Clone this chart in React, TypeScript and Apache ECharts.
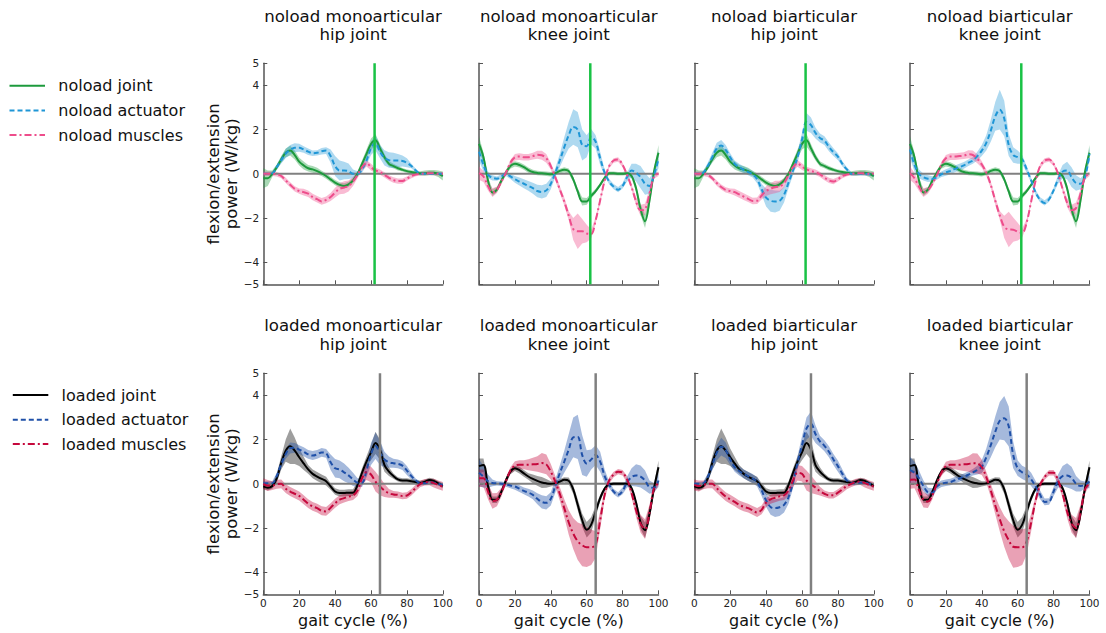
import React, { useEffect, useRef } from "react";
import * as echarts from "echarts";

// gait cycle sample positions (%)
const X = [0, 2.5, 5, 7.5, 10, 12.5, 15, 17.5, 20, 22.5, 25, 27.5, 30, 32.5, 35, 37.5, 40, 42.5, 45, 47.5, 50, 52.5, 55, 57.5, 60, 62.5, 65, 67.5, 70, 72.5, 75, 77.5, 80, 82.5, 85, 87.5, 90, 92.5, 95, 97.5, 100];
const Y_TICKS = [-5, -4, -2, 0, 2, 4, 5];
const TOE_OFF_NOLOAD = 62;
const TOE_OFF_LOADED = 65;

// ---------- noload ----------
const noloadHipJoint = [-0.2, -0.2, 0, 0.3, 0.65, 0.95, 1.05, 0.85, 0.55, 0.38, 0.25, 0.2, 0.12, 0.02, -0.1, -0.25, -0.4, -0.5, -0.55, -0.48, -0.3, 0, 0.45, 0.9, 1.35, 1.52, 1.15, 0.75, 0.45, 0.35, 0.25, 0.18, 0.12, 0.08, 0.05, 0.02, 0.03, 0.05, 0.05, 0, -0.1];
const noloadHipJointSd = [0.45, 0.35, 0.15, 0.12, 0.15, 0.2, 0.22, 0.2, 0.18, 0.18, 0.15, 0.15, 0.15, 0.12, 0.12, 0.12, 0.12, 0.12, 0.12, 0.12, 0.12, 0.12, 0.15, 0.2, 0.25, 0.28, 0.2, 0.15, 0.12, 0.1, 0.1, 0.08, 0.08, 0.08, 0.08, 0.1, 0.12, 0.12, 0.12, 0.15, 0.2];
const noloadKneeJoint = [1.35, 0.75, -0.3, -0.85, -0.72, -0.3, 0.05, 0.35, 0.45, 0.4, 0.3, 0.17, 0.08, 0.04, 0.02, 0, -0.02, 0.03, 0.13, 0.18, 0.12, -0.25, -0.8, -1.25, -1.25, -1.0, -0.78, -0.5, -0.18, 0.02, 0.02, 0, 0, 0.03, -0.1, -0.65, -1.6, -2.15, -1.2, 0.1, 0.95];
const noloadKneeJointSd = [0.35, 0.2, 0.15, 0.15, 0.12, 0.12, 0.12, 0.12, 0.12, 0.12, 0.12, 0.12, 0.1, 0.1, 0.1, 0.1, 0.1, 0.1, 0.1, 0.12, 0.12, 0.12, 0.15, 0.18, 0.15, 0.12, 0.1, 0.08, 0.08, 0.08, 0.08, 0.08, 0.08, 0.08, 0.1, 0.15, 0.25, 0.3, 0.25, 0.15, 0.35];

const noloadMonoHipAct = [0, 0, 0.02, 0.3, 0.62, 0.92, 1.08, 1.18, 1.18, 1.1, 1.0, 0.93, 0.95, 1.02, 1.05, 0.8, 0.35, 0.15, 0.15, 0.12, 0, 0, 0.2, 0.6, 1.15, 1.4, 1.0, 0.72, 0.62, 0.6, 0.6, 0.58, 0.5, 0.35, 0.15, 0, 0, 0, 0, 0, 0];
const noloadMonoHipActSd = [0.05, 0.05, 0.08, 0.12, 0.15, 0.2, 0.22, 0.2, 0.18, 0.15, 0.15, 0.12, 0.12, 0.15, 0.15, 0.3, 0.45, 0.45, 0.4, 0.35, 0.2, 0.12, 0.15, 0.2, 0.3, 0.35, 0.3, 0.35, 0.35, 0.35, 0.3, 0.25, 0.2, 0.1, 0.08, 0.05, 0.05, 0.05, 0.05, 0.05, 0.05];
const noloadMonoHipMus = [0, 0, 0, -0.02, -0.1, -0.3, -0.5, -0.68, -0.78, -0.83, -0.9, -1.05, -1.15, -1.25, -1.18, -1.05, -0.85, -0.68, -0.62, -0.55, -0.35, -0.05, 0.3, 0.48, 0.3, 0.15, 0.08, -0.05, -0.18, -0.28, -0.33, -0.33, -0.22, -0.1, -0.03, 0, 0.02, 0.03, 0.02, 0, 0];
const noloadHipMusSd = [0.1, 0.1, 0.1, 0.1, 0.1, 0.12, 0.12, 0.12, 0.12, 0.15, 0.15, 0.15, 0.15, 0.15, 0.15, 0.18, 0.22, 0.25, 0.28, 0.25, 0.2, 0.15, 0.15, 0.15, 0.15, 0.12, 0.12, 0.12, 0.12, 0.12, 0.12, 0.12, 0.1, 0.1, 0.08, 0.08, 0.08, 0.08, 0.08, 0.08, 0.08];

const noloadMonoKneeAct = [1.0, 0.4, -0.05, -0.18, -0.22, -0.12, 0, -0.12, -0.25, -0.35, -0.45, -0.55, -0.65, -0.78, -0.82, -0.75, -0.45, 0.05, 0.6, 1.2, 1.75, 2.12, 2.0, 1.3, 1.25, 1.68, 1.45, 0.7, 0.05, -0.35, -0.58, -0.72, -0.55, -0.15, 0.15, 0.05, -0.15, -0.45, -0.55, -0.05, 0.65];
const noloadMonoKneeActSd = [0.4, 0.3, 0.15, 0.12, 0.1, 0.1, 0.1, 0.12, 0.15, 0.18, 0.2, 0.22, 0.25, 0.28, 0.3, 0.3, 0.25, 0.2, 0.3, 0.45, 0.6, 0.8, 0.8, 0.7, 0.5, 0.35, 0.3, 0.3, 0.15, 0.12, 0.12, 0.12, 0.12, 0.2, 0.3, 0.4, 0.5, 0.5, 0.35, 0.2, 0.4];
const noloadMonoKneeMus = [0.03, -0.12, -0.55, -0.85, -0.72, -0.35, 0.05, 0.5, 0.75, 0.78, 0.75, 0.75, 0.8, 0.86, 0.84, 0.7, 0.35, -0.15, -0.7, -1.25, -1.9, -2.5, -2.6, -2.6, -2.7, -2.72, -2.1, -1.2, -0.3, 0.35, 0.6, 0.65, 0.4, -0.05, -0.6, -1.25, -1.65, -1.6, -0.9, -0.1, 0];
const noloadKneeMusSd = [0.3, 0.25, 0.2, 0.2, 0.15, 0.12, 0.1, 0.12, 0.15, 0.15, 0.15, 0.15, 0.15, 0.18, 0.2, 0.2, 0.15, 0.15, 0.15, 0.18, 0.2, 0.5, 0.8, 0.55, 0.4, 0.2, 0.15, 0.12, 0.12, 0.1, 0.1, 0.1, 0.1, 0.1, 0.12, 0.2, 0.25, 0.25, 0.2, 0.12, 0.1];

const noloadBiHipAct = [0, 0, 0.05, 0.35, 0.75, 1.15, 1.28, 1.08, 0.75, 0.45, 0.3, 0.18, 0.08, -0.02, -0.25, -0.7, -1.08, -1.22, -1.25, -1.22, -0.95, -0.4, 0.15, 0.75, 1.55, 2.35, 2.2, 1.85, 1.62, 1.5, 1.22, 0.98, 0.78, 0.45, 0.2, 0, 0, 0, 0, -0.02, -0.05];
const noloadBiHipActSd = [0.05, 0.05, 0.08, 0.15, 0.2, 0.25, 0.25, 0.22, 0.18, 0.15, 0.15, 0.15, 0.15, 0.15, 0.18, 0.25, 0.4, 0.5, 0.5, 0.45, 0.35, 0.25, 0.2, 0.25, 0.3, 0.4, 0.35, 0.25, 0.2, 0.2, 0.2, 0.18, 0.15, 0.12, 0.1, 0.08, 0.08, 0.08, 0.08, 0.08, 0.08];
const noloadBiHipMus = [0, 0, 0, -0.05, -0.2, -0.42, -0.6, -0.73, -0.78, -0.83, -0.93, -1.03, -1.13, -1.23, -1.22, -0.98, -0.78, -0.68, -0.6, -0.57, -0.42, -0.05, 0.3, 0.47, 0.32, 0.2, 0.13, 0.07, -0.03, -0.17, -0.3, -0.35, -0.25, -0.1, -0.03, 0, 0.02, 0.03, 0.02, 0, 0];

const noloadBiKneeAct = [1.1, 0.4, 0, -0.15, -0.22, -0.23, -0.15, -0.02, 0.06, 0.13, 0.22, 0.3, 0.38, 0.5, 0.6, 0.8, 1.05, 1.4, 1.95, 2.6, 2.9, 2.5, 1.3, 0.85, 0.75, 0.65, 0.2, -0.3, -0.85, -1.18, -1.32, -1.15, -0.75, -0.25, 0.1, 0.15, -0.15, -0.42, -0.45, -0.15, 0.9];
const noloadBiKneeActSd = [0.4, 0.3, 0.2, 0.15, 0.15, 0.12, 0.12, 0.12, 0.15, 0.15, 0.15, 0.15, 0.15, 0.15, 0.15, 0.2, 0.25, 0.35, 0.5, 0.65, 0.9, 0.8, 0.5, 0.35, 0.3, 0.2, 0.15, 0.12, 0.12, 0.12, 0.12, 0.12, 0.12, 0.2, 0.3, 0.4, 0.45, 0.35, 0.25, 0.15, 0.3];
const noloadBiKneeMus = [0.03, -0.2, -0.58, -0.85, -0.75, -0.45, -0.05, 0.42, 0.7, 0.78, 0.78, 0.8, 0.82, 0.88, 0.85, 0.68, 0.42, 0.05, -0.5, -1.22, -1.88, -2.4, -2.52, -2.53, -2.62, -2.68, -2.2, -1.25, -0.3, 0.35, 0.6, 0.65, 0.45, 0, -0.68, -1.3, -1.65, -1.55, -0.9, -0.15, 0];

// ---------- loaded ----------
const loadedHipJoint = [-0.12, -0.18, -0.1, 0.25, 0.95, 1.5, 1.7, 1.5, 1.2, 0.92, 0.65, 0.45, 0.33, 0.22, 0.12, -0.12, -0.35, -0.42, -0.42, -0.4, -0.4, -0.05, 0.5, 1.0, 1.42, 1.85, 1.55, 0.85, 0.55, 0.35, 0.2, 0.15, 0.15, 0.12, 0.08, 0.04, 0.1, 0.17, 0.13, 0.02, -0.1];
const loadedHipJointSd = [0.12, 0.12, 0.12, 0.2, 0.3, 0.5, 0.8, 0.6, 0.4, 0.3, 0.2, 0.2, 0.2, 0.2, 0.2, 0.15, 0.15, 0.15, 0.15, 0.15, 0.15, 0.15, 0.2, 0.25, 0.35, 0.5, 0.45, 0.3, 0.2, 0.12, 0.1, 0.1, 0.1, 0.1, 0.1, 0.1, 0.1, 0.1, 0.1, 0.1, 0.1];
const loadedKneeJoint = [0.8, 0.85, -0.1, -0.72, -0.72, -0.35, 0.15, 0.55, 0.7, 0.62, 0.47, 0.33, 0.22, 0.13, 0.06, 0.02, 0, 0.02, 0.1, 0.18, 0.13, -0.25, -0.95, -1.65, -2.08, -1.85, -1.25, -0.65, -0.22, -0.02, 0, 0, 0, 0, -0.2, -0.85, -1.75, -2.1, -1.35, -0.2, 0.75];
const loadedKneeJointSd = [0.35, 0.3, 0.2, 0.15, 0.15, 0.12, 0.12, 0.12, 0.12, 0.15, 0.15, 0.15, 0.2, 0.22, 0.25, 0.2, 0.12, 0.1, 0.12, 0.12, 0.15, 0.2, 0.25, 0.3, 0.35, 0.35, 0.25, 0.15, 0.1, 0.08, 0.08, 0.08, 0.08, 0.08, 0.1, 0.15, 0.3, 0.35, 0.3, 0.2, 0.3];

const loadedMonoHipAct = [0.03, 0.03, 0.03, 0.35, 0.9, 1.35, 1.62, 1.63, 1.55, 1.45, 1.33, 1.28, 1.33, 1.42, 1.38, 0.98, 0.7, 0.65, 0.52, 0.38, 0.2, 0.05, 0.05, 0.6, 1.35, 1.72, 1.4, 1.1, 0.98, 0.93, 0.9, 0.82, 0.6, 0.35, 0.15, 0.02, 0.03, 0.05, 0.05, 0, -0.05];
const loadedMonoHipActSd = [0.08, 0.08, 0.08, 0.15, 0.2, 0.22, 0.25, 0.22, 0.2, 0.2, 0.2, 0.2, 0.2, 0.2, 0.2, 0.35, 0.42, 0.4, 0.4, 0.35, 0.3, 0.2, 0.2, 0.3, 0.5, 0.6, 0.55, 0.35, 0.25, 0.2, 0.2, 0.2, 0.2, 0.15, 0.08, 0.08, 0.08, 0.08, 0.08, 0.08, 0.08];
const loadedMonoHipMus = [0, -0.08, -0.08, -0.02, 0, -0.22, -0.35, -0.45, -0.55, -0.72, -0.9, -1.02, -1.1, -1.22, -1.25, -1.08, -0.88, -0.72, -0.65, -0.58, -0.53, -0.3, 0.25, 0.52, 0.42, 0.1, -0.12, -0.3, -0.43, -0.48, -0.5, -0.55, -0.53, -0.38, -0.18, 0, 0.07, 0.08, 0.03, -0.05, -0.12];
const loadedHipMusSd = [0.25, 0.25, 0.2, 0.2, 0.2, 0.2, 0.2, 0.2, 0.2, 0.2, 0.2, 0.2, 0.2, 0.2, 0.2, 0.2, 0.2, 0.2, 0.2, 0.2, 0.2, 0.25, 0.3, 0.35, 0.35, 0.45, 0.4, 0.3, 0.2, 0.15, 0.15, 0.15, 0.15, 0.15, 0.15, 0.15, 0.15, 0.15, 0.2, 0.2, 0.2];

const loadedMonoKneeAct = [0.5, 0.32, 0.12, 0.04, 0.02, 0, -0.03, -0.08, -0.12, -0.22, -0.32, -0.4, -0.5, -0.68, -0.82, -0.86, -0.68, -0.1, 0.48, 1.0, 1.55, 2.1, 2.12, 1.3, 0.92, 1.1, 1.3, 1.0, 0.35, -0.05, -0.35, -0.5, -0.32, 0.08, 0.3, 0.38, 0.33, 0.15, -0.15, -0.18, 0.15];
const loadedMonoKneeActSd = [0.6, 0.5, 0.3, 0.15, 0.1, 0.1, 0.1, 0.12, 0.15, 0.15, 0.15, 0.18, 0.2, 0.25, 0.3, 0.3, 0.3, 0.3, 0.35, 0.5, 0.7, 0.9, 1.0, 0.9, 0.6, 0.45, 0.45, 0.45, 0.3, 0.15, 0.12, 0.12, 0.15, 0.25, 0.4, 0.5, 0.5, 0.45, 0.3, 0.2, 0.3];
const loadedMonoKneeMus = [0.25, 0.25, -0.35, -0.78, -0.72, -0.38, 0.12, 0.6, 0.82, 0.86, 0.86, 0.86, 0.88, 0.9, 0.94, 0.88, 0.55, 0.1, -0.45, -1.1, -1.75, -2.25, -2.6, -2.78, -2.87, -2.87, -2.75, -1.65, -0.5, 0.15, 0.42, 0.55, 0.5, 0.2, -0.42, -1.2, -1.8, -2.05, -1.3, -0.2, 0.03];
const loadedKneeMusSd = [0.4, 0.4, 0.35, 0.35, 0.3, 0.2, 0.15, 0.15, 0.2, 0.2, 0.2, 0.25, 0.3, 0.35, 0.45, 0.45, 0.35, 0.25, 0.3, 0.4, 0.55, 0.7, 0.85, 0.95, 0.9, 0.8, 0.6, 0.4, 0.2, 0.15, 0.12, 0.12, 0.12, 0.15, 0.2, 0.3, 0.4, 0.45, 0.35, 0.2, 0.1];

const loadedBiHipAct = [0, 0, 0.02, 0.3, 0.85, 1.4, 1.68, 1.52, 1.1, 0.75, 0.58, 0.45, 0.34, 0.24, 0.08, -0.3, -0.75, -1.05, -1.1, -1.06, -0.95, -0.6, 0.05, 0.95, 1.75, 2.5, 2.72, 2.25, 1.92, 1.72, 1.45, 1.1, 0.8, 0.45, 0.15, 0.02, 0.02, 0.05, 0.05, 0, -0.05];
const loadedBiHipActSd = [0.08, 0.08, 0.08, 0.15, 0.25, 0.35, 0.4, 0.35, 0.25, 0.2, 0.2, 0.2, 0.2, 0.2, 0.2, 0.25, 0.3, 0.35, 0.4, 0.4, 0.35, 0.3, 0.25, 0.3, 0.4, 0.5, 0.55, 0.4, 0.25, 0.25, 0.25, 0.25, 0.25, 0.2, 0.12, 0.08, 0.08, 0.08, 0.08, 0.08, 0.08];
const loadedBiHipMus = [-0.05, -0.1, -0.05, 0, 0, -0.2, -0.4, -0.58, -0.7, -0.82, -0.95, -1.04, -1.1, -1.2, -1.3, -1.18, -0.85, -0.7, -0.63, -0.57, -0.53, -0.3, 0.15, 0.5, 0.45, 0.15, -0.02, -0.17, -0.33, -0.45, -0.52, -0.52, -0.4, -0.25, -0.1, 0, 0.08, 0.1, 0.03, -0.05, -0.12];

const loadedBiKneeAct = [0.62, 0.5, 0.25, -0.1, -0.38, -0.4, -0.12, 0, 0.05, 0.08, 0.16, 0.24, 0.32, 0.41, 0.52, 0.62, 0.78, 1.2, 1.75, 2.35, 2.85, 2.97, 2.6, 1.3, 0.7, 0.52, 0.42, 0.2, -0.12, -0.5, -0.82, -0.8, -0.35, 0.12, 0.35, 0.38, 0.27, 0, -0.1, -0.05, 0.1];
const loadedBiKneeActSd = [0.6, 0.5, 0.35, 0.25, 0.2, 0.2, 0.15, 0.15, 0.15, 0.15, 0.15, 0.15, 0.15, 0.15, 0.15, 0.2, 0.3, 0.4, 0.55, 0.7, 0.85, 1.0, 0.9, 0.6, 0.35, 0.3, 0.3, 0.3, 0.25, 0.2, 0.15, 0.15, 0.2, 0.3, 0.45, 0.55, 0.5, 0.35, 0.25, 0.15, 0.3];
const loadedBiKneeMus = [0.18, 0.2, -0.28, -0.72, -0.8, -0.5, 0.02, 0.5, 0.8, 0.86, 0.86, 0.86, 0.88, 0.9, 0.93, 0.92, 0.75, 0.3, -0.3, -0.98, -1.6, -2.15, -2.55, -2.85, -2.87, -2.87, -2.6, -1.75, -0.75, -0.05, 0.3, 0.5, 0.5, 0.15, -0.45, -1.25, -1.8, -2.0, -1.3, -0.25, 0.03];

const FONT = '"DejaVu Sans", "Liberation Sans", sans-serif';

const STYLES = {
  noload: {
    names: ["noload joint", "noload actuator", "noload muscles"],
    colors: ["#1d9a3c", "#1f96d6", "#ee4d8b"],
    bands: ["rgba(29,154,60,0.38)", "rgba(31,150,214,0.36)", "rgba(238,77,139,0.38)"],
    vline: "#19c245",
    toeOff: TOE_OFF_NOLOAD,
  },
  loaded: {
    names: ["loaded joint", "loaded actuator", "loaded muscles"],
    colors: ["#000000", "#1f50a8", "#c5083c"],
    bands: ["rgba(0,0,0,0.38)", "rgba(31,80,168,0.4)", "rgba(197,8,60,0.38)"],
    vline: "#808080",
    toeOff: TOE_OFF_LOADED,
  },
};

const DASHES: any[] = ["solid", [5, 3], [7, 3, 2, 3]];

const PANELS = [
  { row: 0, col: 0, style: "noload", t1: "noload monoarticular", t2: "hip joint", lines: [noloadHipJoint, noloadMonoHipAct, noloadMonoHipMus], sds: [noloadHipJointSd, noloadMonoHipActSd, noloadHipMusSd] },
  { row: 0, col: 1, style: "noload", t1: "noload monoarticular", t2: "knee joint", lines: [noloadKneeJoint, noloadMonoKneeAct, noloadMonoKneeMus], sds: [noloadKneeJointSd, noloadMonoKneeActSd, noloadKneeMusSd] },
  { row: 0, col: 2, style: "noload", t1: "noload biarticular", t2: "hip joint", lines: [noloadHipJoint, noloadBiHipAct, noloadBiHipMus], sds: [noloadHipJointSd, noloadBiHipActSd, noloadHipMusSd] },
  { row: 0, col: 3, style: "noload", t1: "noload biarticular", t2: "knee joint", lines: [noloadKneeJoint, noloadBiKneeAct, noloadBiKneeMus], sds: [noloadKneeJointSd, noloadBiKneeActSd, noloadKneeMusSd] },
  { row: 1, col: 0, style: "loaded", t1: "loaded monoarticular", t2: "hip joint", lines: [loadedHipJoint, loadedMonoHipAct, loadedMonoHipMus], sds: [loadedHipJointSd, loadedMonoHipActSd, loadedHipMusSd] },
  { row: 1, col: 1, style: "loaded", t1: "loaded monoarticular", t2: "knee joint", lines: [loadedKneeJoint, loadedMonoKneeAct, loadedMonoKneeMus], sds: [loadedKneeJointSd, loadedMonoKneeActSd, loadedKneeMusSd] },
  { row: 1, col: 2, style: "loaded", t1: "loaded biarticular", t2: "hip joint", lines: [loadedHipJoint, loadedBiHipAct, loadedBiHipMus], sds: [loadedHipJointSd, loadedBiHipActSd, loadedHipMusSd] },
  { row: 1, col: 3, style: "loaded", t1: "loaded biarticular", t2: "knee joint", lines: [loadedKneeJoint, loadedBiKneeAct, loadedBiKneeMus], sds: [loadedKneeJointSd, loadedBiKneeActSd, loadedKneeMusSd] },
];

const COL_LEFT = [263.3, 479, 694.3, 910];
const COL_W = 179.5;
const ROW_TOP = [63.3, 373.3];
const ROW_H = 221;

const fmtY = (v: number) => (v < 0 ? "\u2212" + Math.abs(v) : String(v));

function text(x: number, y: number, s: string, size: number, align = "center") {
  return {
    type: "text",
    x,
    y,
    silent: true,
    style: {
      text: s,
      font: `${size}px ${FONT}`,
      fill: "#111",
      textAlign: align,
      textVerticalAlign: "middle",
      align,
      verticalAlign: "middle",
    },
  };
}

function buildOption() {
  const grid: any[] = [];
  const xAxis: any[] = [];
  const yAxis: any[] = [];
  const series: any[] = [];
  const graphic: any[] = [];
  const axisColor = "#555555";

  PANELS.forEach((p, k) => {
    const st = (STYLES as any)[p.style];
    const left = COL_LEFT[p.col];
    const top = ROW_TOP[p.row];
    grid.push({ left, top, width: COL_W, height: ROW_H, containLabel: false });
    xAxis.push({
      type: "value", gridIndex: k, min: 0, max: 100, interval: 20,
      axisLine: { show: true, onZero: false, lineStyle: { color: axisColor, width: 1.5 } },
      axisTick: { show: true, inside: true, length: 4, lineStyle: { color: axisColor, width: 1 } },
      axisLabel: { show: p.row === 1, fontSize: 10.5, color: "#222", margin: 3, fontFamily: FONT },
      splitLine: { show: false },
    });
    yAxis.push({
      type: "value", gridIndex: k, min: -5, max: 5, interval: 1,
      axisLine: { show: true, onZero: false, lineStyle: { color: axisColor, width: 1.5 } },
      axisTick: { show: true, inside: true, length: 4, customValues: Y_TICKS, lineStyle: { color: axisColor, width: 1 } },
      axisLabel: { show: p.col === 0, customValues: Y_TICKS, formatter: fmtY, fontSize: 10.5, color: "#222", margin: 4, fontFamily: FONT },
      splitLine: { show: false },
    });

    // bands (mean ± sd)
    p.lines.forEach((mean: number[], j: number) => {
      const sd = p.sds[j];
      series.push({
        type: "custom", xAxisIndex: k, yAxisIndex: k, silent: true,
        data: [[X[0], mean[0]]],
        renderItem: (_params: any, api: any) => {
          const pts: number[][] = [];
          for (let i = 0; i < X.length; i++) pts.push(api.coord([X[i], mean[i] + sd[i]]));
          for (let i = X.length - 1; i >= 0; i--) pts.push(api.coord([X[i], mean[i] - sd[i]]));
          return { type: "polygon", shape: { points: pts }, style: { fill: st.bands[j], stroke: "none" } };
        },
      });
    });
    // zero line
    series.push({
      type: "line", xAxisIndex: k, yAxisIndex: k, silent: true, symbol: "none",
      data: [[0, 0], [100, 0]], lineStyle: { color: "#808080", width: 2 },
    });
    // mean lines
    p.lines.forEach((mean: number[], j: number) => {
      series.push({
        type: "line", name: st.names[j], xAxisIndex: k, yAxisIndex: k, silent: true,
        symbol: "none", showSymbol: false, smooth: 0.35,
        data: X.map((x, i) => [x, mean[i]]),
        lineStyle: { color: st.colors[j], width: 2, type: DASHES[j] },
      });
    });
    // toe-off line
    series.push({
      type: "line", xAxisIndex: k, yAxisIndex: k, silent: true, symbol: "none",
      data: [[st.toeOff, -5], [st.toeOff, 5]], lineStyle: { color: st.vline, width: 2.5 },
    });

    // titles
    const cx = left + COL_W / 2;
    const ty = p.row === 0 ? 16 : 325.5;
    graphic.push(text(cx, ty, p.t1, 16.6));
    graphic.push(text(cx, ty + 18.5, p.t2, 16.6));
    if (p.row === 1) graphic.push(text(cx, 620.5, "gait cycle (%)", 16));
  });

  // y axis names
  [0, 1].forEach((r) => {
    graphic.push({
      type: "text", x: 222.5, y: ROW_TOP[r] + ROW_H / 2, rotation: Math.PI / 2, silent: true,
      style: {
        text: "flexion/extension\npower (W/kg)", font: `16.5px ${FONT}`, fill: "#111",
        textAlign: "center", textVerticalAlign: "middle", align: "center", verticalAlign: "middle", lineHeight: 18.7,
      },
    });
  });

  // legends
  const legends = [
    { st: STYLES.noload, x0: 9.5, ys: [85.7, 110.5, 135] },
    { st: STYLES.loaded, x0: 12.8, ys: [395, 419.8, 444] },
  ];
  legends.forEach((lg) => {
    lg.ys.forEach((y, j) => {
      graphic.push({
        type: "line", silent: true,
        shape: { x1: lg.x0, y1: y, x2: lg.x0 + 35.5, y2: y },
        style: { stroke: lg.st.colors[j], lineWidth: 2, lineDash: j === 0 ? null : DASHES[j] },
      });
      graphic.push(text(lg.x0 + 48.8, y, lg.st.names[j], 16, "left"));
    });
  });

  return { animation: false, backgroundColor: "#ffffff", grid, xAxis, yAxis, series, graphic };
}

export default function App() {
  const ref = useRef<HTMLDivElement>(null);
  useEffect(() => {
    document.body.style.margin = "0";
    if (!ref.current) return;
    const chart = echarts.init(ref.current, null, { renderer: "svg" });
    chart.setOption(buildOption() as any);
    return () => chart.dispose();
  }, []);
  return <div ref={ref} style={{ width: 1106, height: 633 }} />;
}
